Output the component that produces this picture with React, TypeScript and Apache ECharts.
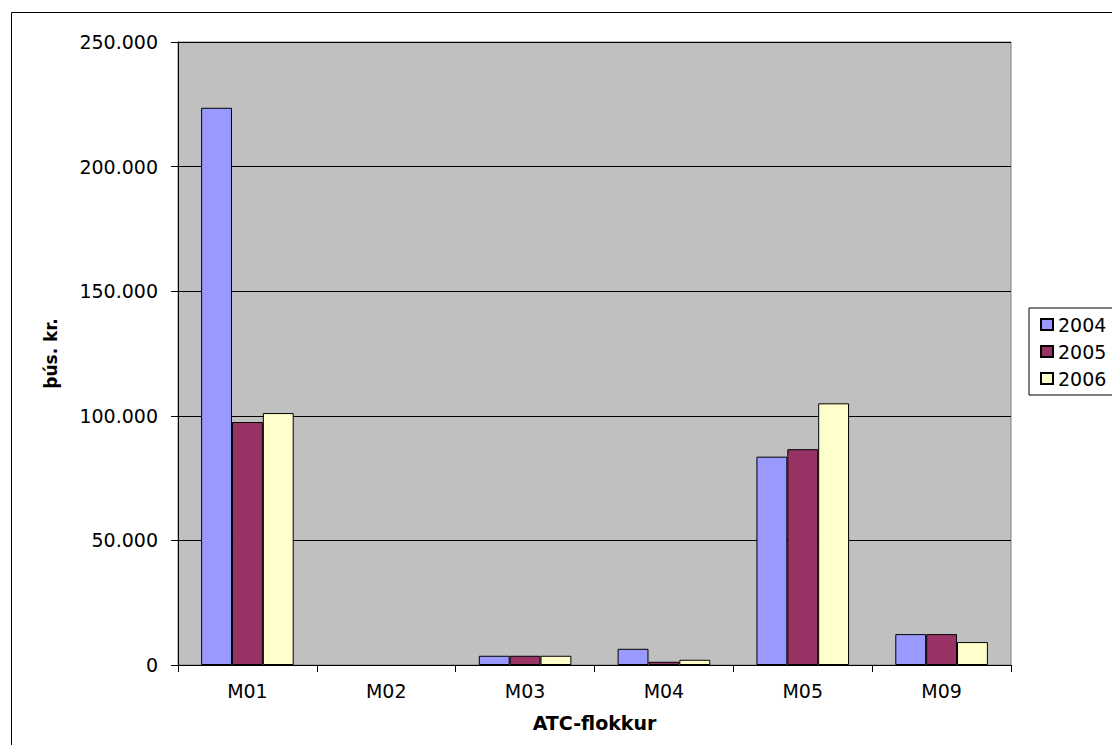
import React, { useEffect, useRef } from "react";
import * as echarts from "echarts";

const categories = ["M01", "M02", "M03", "M04", "M05", "M09"];
const seriesNames = ["2004", "2005", "2006"];
const values2004 = [223600, null, 3700, 6500, 83600, 12400];
const values2005 = [97500, null, 3700, 1300, 86600, 12400];
const values2006 = [101100, null, 3700, 2100, 105000, 9200];
const colors = ["#9999FF", "#993366", "#FFFFCC"];

const fmt = (v: number) => String(v).replace(/\B(?=(\d{3})+(?!\d))/g, ".");

export default function App() {
  const ref = useRef<HTMLDivElement>(null);
  useEffect(() => {
    if (!ref.current) return;
    const chart = echarts.init(ref.current, null, { renderer: "svg" });
    const font = "'DejaVu Sans', sans-serif";
    const data = [values2004, values2005, values2006];
    chart.setOption({
      animation: false,
      backgroundColor: "#FFFFFF",
      textStyle: { fontFamily: font },
      graphic: [
        {
          type: "rect",
          shape: { x: 11.5, y: 12.5, width: 1120, height: 760 },
          style: { fill: "none", stroke: "#000000", lineWidth: 1 },
          silent: true,
          z: -1,
        },
      ],
      grid: {
        left: 178,
        top: 42,
        right: 101,
        bottom: 80,
        show: true,
        backgroundColor: "#C0C0C0",
        borderColor: "#808080",
        borderWidth: 1,
      },
      legend: {
        orient: "vertical",
        left: 1029,
        top: 308,
        data: seriesNames,
        icon: "rect",
        itemWidth: 12,
        itemHeight: 11,
        itemGap: 8,
        padding: [7, 20, 7, 11],
        borderColor: "#000000",
        borderWidth: 1,
        textStyle: { fontFamily: font, fontSize: 19, color: "#000000" },
      },
      xAxis: {
        type: "category",
        data: categories,
        name: "ATC-flokkur",
        nameLocation: "middle",
        nameGap: 48,
        nameMoveOverlap: false,
        nameTextStyle: { fontFamily: font, fontSize: 19, fontWeight: "bold", color: "#000000" },
        axisLine: { show: true, lineStyle: { color: "#000000", width: 1 } },
        axisTick: { show: true, length: 7, lineStyle: { color: "#000000" } },
        axisLabel: { fontFamily: font, fontSize: 19, color: "#000000", margin: 16 },
      },
      yAxis: {
        type: "value",
        min: 0,
        max: 250000,
        interval: 50000,
        name: "þús. kr.",
        nameLocation: "middle",
        nameGap: 119,
        nameMoveOverlap: false,
        nameTextStyle: { fontFamily: font, fontSize: 17, fontWeight: "bold", color: "#000000" },
        axisLine: { show: true, lineStyle: { color: "#000000", width: 1 } },
        axisTick: { show: true, length: 7, inside: false, lineStyle: { color: "#000000" } },
        axisLabel: { fontFamily: font, fontSize: 19, color: "#000000", margin: 20, formatter: (v: number) => fmt(v) },
        splitLine: { show: true, lineStyle: { color: "#000000", width: 1 } },
      },
      series: seriesNames.map((name, i) => ({
        name,
        type: "bar",
        data: data[i],
        barGap: "0%",
        barCategoryGap: "33.3%",
        itemStyle: { color: colors[i], borderColor: "#000000", borderWidth: 1 },
      })),
    });
    return () => chart.dispose();
  }, []);
  return (
    <div
      ref={ref}
      style={{ position: "fixed", left: 0, top: 0, width: 1112, height: 745, background: "#fff" }}
    />
  );
}
